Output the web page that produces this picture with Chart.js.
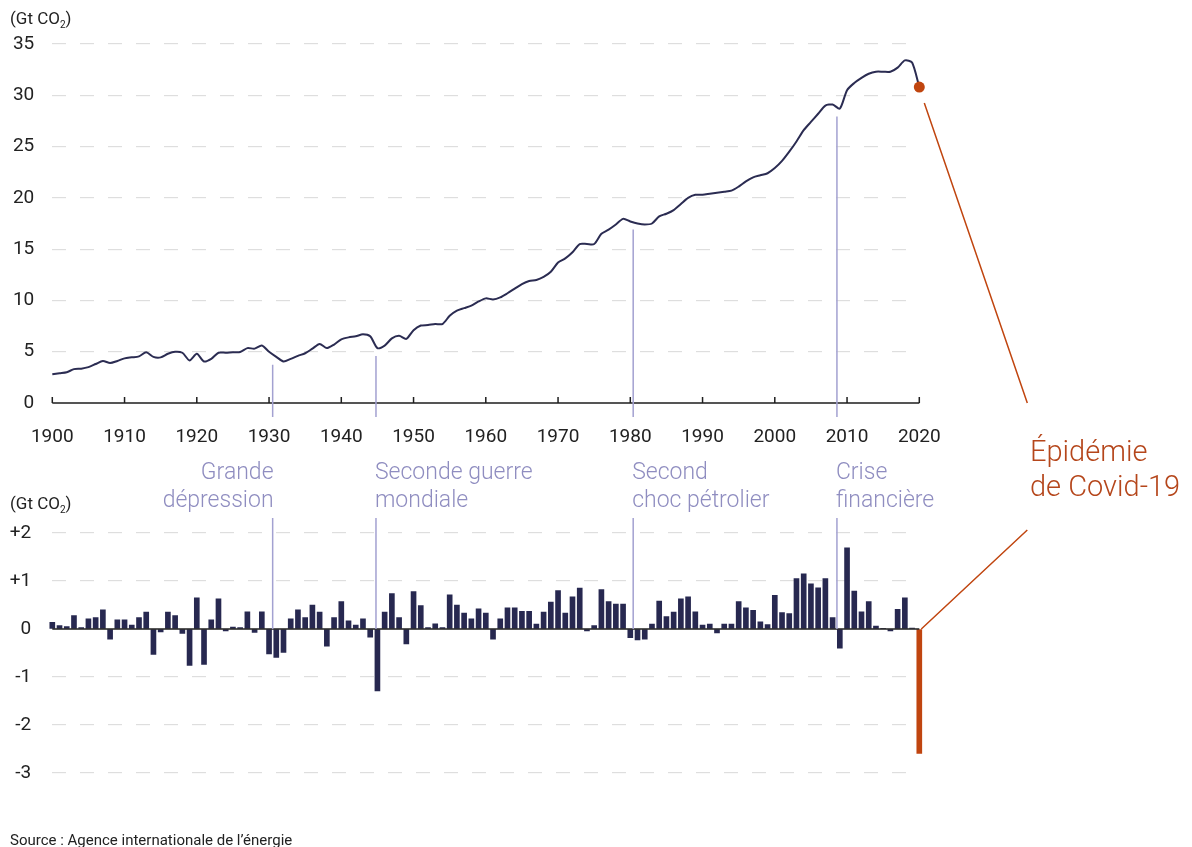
<!DOCTYPE html>
<html lang="fr">
<head>
<meta charset="utf-8">
<title>Émissions mondiales de CO2</title>
<script src="https://cdn.jsdelivr.net/npm/chart.js@4.4.1/dist/chart.umd.min.js"></script>
<style>
  html, body { margin: 0; padding: 0; background: #fff; }
  body { width: 1192px; height: 847px; position: relative; overflow: hidden; font-family: Roboto, "Noto Sans", sans-serif; }
  canvas { position: absolute; left: 0; }
  #top-chart { top: 0; }
  #bottom-chart { top: 460px; }
  #overlay { top: 0; pointer-events: none; }
  .unit { position: absolute; left: 10px; font-size: 17px; line-height: 20px; color: #222; }
  .unit sub { font-size: 10px; vertical-align: -4px; line-height: 0; }
  .event { position: absolute; top: 458px; font-size: 23px; line-height: 28px; color: #8f8dc0; font-weight: 300; white-space: nowrap; }
  .covid { position: absolute; left: 1030px; top: 434px; font-size: 29px; line-height: 35px; color: #b5461b; font-weight: 300; white-space: nowrap; }
  .source { position: absolute; left: 10px; top: 831px; font-size: 15px; line-height: 18px; color: #222; }
</style>
</head>
<body>
<canvas id="top-chart" width="1192" height="460"></canvas>
<canvas id="bottom-chart" width="1192" height="350"></canvas>
<canvas id="overlay" width="1192" height="847"></canvas>
<div class="unit" style="top:8px">(Gt CO<sub>2</sub>)</div>
<div class="unit" style="top:493px">(Gt CO<sub>2</sub>)</div>
<div class="covid">Épidémie<br>de Covid-19</div>
<div class="source">Source : Agence internationale de l’énergie</div>
<script>
// années 1900 -> 2020
var years = [];
for (var yr = 1900; yr <= 2020; yr++) years.push(yr);

// émissions mondiales (Gt CO2)
var emissions = [
  2.8, 2.9, 3.0, 3.3, 3.35, 3.5, 3.8, 4.1, 3.9, 4.1,
  4.35, 4.45, 4.55, 4.95, 4.5, 4.45, 4.8, 5.0, 4.9, 4.15,
  4.8, 4.05, 4.3, 4.9, 4.9, 4.95, 4.97, 5.35, 5.3, 5.6,
  5.0, 4.5, 4.05, 4.3, 4.6, 4.85, 5.3, 5.75, 5.35, 5.7,
  6.2, 6.4, 6.5, 6.7, 6.5, 5.35, 5.6, 6.3, 6.55, 6.25,
  7.1, 7.55, 7.6, 7.7, 7.7, 8.5, 9.0, 9.25, 9.5, 9.9,
  10.2, 10.1, 10.3, 10.7, 11.15, 11.6, 11.9, 12.0, 12.3, 12.8,
  13.7, 14.1, 14.7, 15.5, 15.5, 15.5, 16.5, 16.9, 17.4, 17.95,
  17.7, 17.5, 17.4, 17.5, 18.2, 18.45, 18.8, 19.4, 20.0, 20.3,
  20.3, 20.4, 20.5, 20.6, 20.7, 21.1, 21.6, 22.0, 22.2, 22.4,
  22.9, 23.6, 24.5, 25.5, 26.6, 27.4, 28.2, 29.0, 29.1, 28.7,
  30.5, 31.2, 31.7, 32.1, 32.3, 32.3, 32.3, 32.7, 33.4, 33.2,
  30.8
];

// variation annuelle (Gt CO2)
var yearlyChange = [
  0.14, 0.07, 0.05, 0.28, 0.03, 0.21, 0.24, 0.40, -0.21, 0.19,
  0.19, 0.08, 0.24, 0.35, -0.53, -0.06, 0.35, 0.28, -0.09, -0.76,
  0.65, -0.74, 0.19, 0.63, -0.04, 0.04, 0.03, 0.36, -0.07, 0.36,
  -0.52, -0.59, -0.49, 0.21, 0.40, 0.24, 0.50, 0.35, -0.36, 0.24,
  0.57, 0.17, 0.08, 0.21, -0.17, -1.29, 0.35, 0.74, 0.24, -0.31,
  0.78, 0.49, 0.03, 0.11, 0.03, 0.71, 0.50, 0.33, 0.21, 0.42,
  0.33, -0.21, 0.21, 0.44, 0.44, 0.37, 0.37, 0.10, 0.35, 0.56,
  0.80, 0.33, 0.67, 0.85, -0.04, 0.07, 0.82, 0.57, 0.52, 0.52,
  -0.18, -0.23, -0.21, 0.10, 0.58, 0.26, 0.35, 0.63, 0.67, 0.36,
  0.08, 0.10, -0.08, 0.10, 0.10, 0.57, 0.44, 0.39, 0.15, 0.09,
  0.70, 0.34, 0.32, 1.05, 1.15, 0.94, 0.86, 1.05, 0.24, -0.40,
  1.69, 0.79, 0.36, 0.57, 0.06, 0.01, -0.04, 0.41, 0.65, 0.02,
  -2.59
];

var topTicks = [0, 5, 10, 15, 20, 25, 30, 35];
var bottomTicks = [-3, -2, -1, 0, 1, 2];
var xTicks = [1900, 1910, 1920, 1930, 1940, 1950, 1960, 1970, 1980, 1990, 2000, 2010, 2020];

var eventYears = [1930.5, 1944.8, 1980.4, 2008.6];
var eventLabels = [['Grande', 'dépression'], ['Seconde guerre', 'mondiale'], ['Second', 'choc pétrolier'], ['Crise', 'financière']];

var navy = '#272850';
var orange = '#c0450f';
var eventColor = '#a3a1d1';
var gridColor = '#dedede';
var tickFont = { family: 'Roboto', size: 19 };

var baseAxis = {
  id: 'baseAxis',
  afterDatasetsDraw: function(chart, args, opts) {
    var x = chart.scales.x, y = chart.scales.y, ctx = chart.ctx;
    var y0 = y.getPixelForValue(0);
    ctx.save();
    ctx.strokeStyle = '#1e1e1e';
    ctx.lineWidth = 1.5;
    ctx.beginPath();
    ctx.moveTo(x.left, y0);
    ctx.lineTo(x.right, y0);
    if (opts.ticks) {
      xTicks.forEach(function(t) {
        var px = x.getPixelForValue(t);
        ctx.moveTo(px, y0);
        ctx.lineTo(px, y0 - 6);
      });
    }
    ctx.stroke();
    ctx.restore();
  }
};

var topChart = new Chart(document.getElementById('top-chart').getContext('2d'), {
  type: 'line',
  data: {
    datasets: [{
      data: years.map(function(y, i) { return { x: y, y: emissions[i] }; }),
      borderColor: '#2b2c52',
      borderWidth: 2,
      tension: 0.25,
      clip: 10,
      pointRadius: years.map(function(y) { return y === 2020 ? 5.5 : 0; }),
      pointBackgroundColor: orange,
      pointBorderWidth: 0
    }]
  },
  options: {
    responsive: false,
    animation: false,
    layout: { padding: { top: 44, right: 272.7, left: 0, bottom: 0 } },
    plugins: { legend: { display: false }, tooltip: { enabled: false }, baseAxis: { ticks: true } },
    scales: {
      x: {
        type: 'linear', min: 1900, max: 2020, offset: false,
        afterFit: function(s) { s.height = 57; },
        afterBuildTicks: function(s) { s.ticks = xTicks.map(function(v) { return { value: v }; }); },
        grid: { display: false, drawTicks: false },
        border: { display: false },
        ticks: { font: tickFont, color: '#222', padding: 23, maxRotation: 0, callback: function(v) { return String(v); } }
      },
      y: {
        min: 0, max: 35,
        afterFit: function(s) { s.width = 52.3; },
        afterBuildTicks: function(s) { s.ticks = topTicks.map(function(v) { return { value: v }; }); },
        grid: { drawTicks: false, color: function(c) { return c.tick && c.tick.value === 0 ? 'rgba(0,0,0,0)' : gridColor; }, lineWidth: 1.2 },
        border: { display: false, dash: [14, 14] },
        ticks: { font: tickFont, color: '#222', padding: 18 }
      }
    }
  },
  plugins: [baseAxis]
});

var bottomChart = new Chart(document.getElementById('bottom-chart').getContext('2d'), {
  type: 'bar',
  data: {
    datasets: [{
      data: years.map(function(y, i) { return { x: y, y: yearlyChange[i] }; }),
      backgroundColor: years.map(function(y) { return y === 2020 ? orange : navy; }),
      barThickness: 5,
      clip: 10
    }]
  },
  options: {
    responsive: false,
    animation: false,
    layout: { padding: { top: 73, right: 272.7, left: 0, bottom: 37 } },
    plugins: { legend: { display: false }, tooltip: { enabled: false }, baseAxis: { ticks: false } },
    scales: {
      x: {
        type: 'linear', min: 1900, max: 2020, offset: false,
        display: false,
        grid: { display: false, offset: false }
      },
      y: {
        min: -3, max: 2,
        afterFit: function(s) { s.width = 52.3; },
        afterBuildTicks: function(s) { s.ticks = bottomTicks.map(function(v) { return { value: v }; }); },
        grid: { drawTicks: false, color: function(c) { return c.tick && c.tick.value === 0 ? 'rgba(0,0,0,0)' : gridColor; }, lineWidth: 1.2 },
        border: { display: false, dash: [14, 14] },
        ticks: { font: tickFont, color: '#222', padding: 21, callback: function(v) { return v > 0 ? '+' + v : String(v); } }
      }
    }
  },
  plugins: [baseAxis]
});

// annotations communes aux deux graphiques
var bottomOffset = 460;
var ctx = document.getElementById('overlay').getContext('2d');
var tx = topChart.scales.x, ty = topChart.scales.y;
var bx = bottomChart.scales.x, by = bottomChart.scales.y;
var topZero = ty.getPixelForValue(0);
var bottomZero = bottomOffset + by.getPixelForValue(0);
var bottomTop = bottomOffset + by.getPixelForValue(2);

ctx.lineWidth = 1.5;
ctx.strokeStyle = eventColor;
eventYears.forEach(function(ey, i) {
  var px = tx.getPixelForValue(ey);
  var v = emissions[Math.round(ey) - 1900];
  ctx.beginPath();
  ctx.moveTo(px, ty.getPixelForValue(v) + 8);
  ctx.lineTo(px, topZero + 14);
  ctx.moveTo(px, bottomTop - 15);
  ctx.lineTo(px, bottomZero);
  ctx.stroke();

  var div = document.createElement('div');
  div.className = 'event';
  div.innerHTML = eventLabels[i].join('<br>');
  document.body.appendChild(div);
  if (i === 0) {
    div.style.textAlign = 'right';
    div.style.left = (px + 1 - div.offsetWidth) + 'px';
  } else {
    div.style.left = (px - 1) + 'px';
  }
});

var dotX = tx.getPixelForValue(2020);
var dotY = ty.getPixelForValue(emissions[emissions.length - 1]);
var barX = bx.getPixelForValue(2020);
ctx.strokeStyle = orange;
ctx.beginPath();
ctx.moveTo(dotX + 5, dotY + 16);
ctx.lineTo(dotX + 108, topZero);
ctx.moveTo(dotX + 108, bottomZero - 99);
ctx.lineTo(barX + 2, bottomZero);
ctx.stroke();
</script>
</body>
</html>
